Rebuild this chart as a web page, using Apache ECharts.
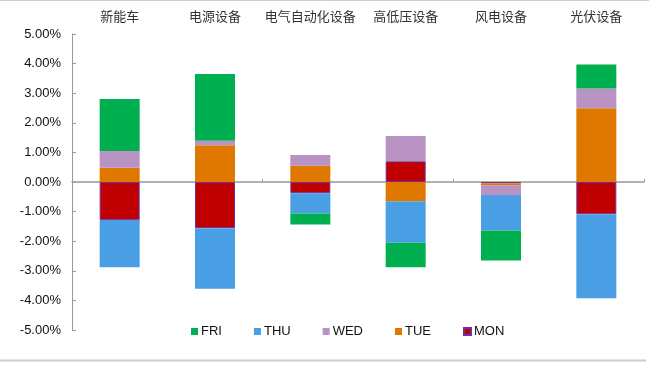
<!DOCTYPE html>
<html>
<head>
<meta charset="utf-8">
<script src="https://cdn.jsdelivr.net/npm/echarts@6/dist/echarts.min.js"></script>
<style>
html,body{margin:0;padding:0;background:#fff;}
#c{width:649px;height:368px;}
</style>
</head>
<body>
<div id="c"></div>
<script>
const categories = ['新能车','电源设备','电气自动化设备','高低压设备','风电设备','光伏设备'];
const MON = [-1.28, -1.56, -0.38, 0.70, -0.04, -1.09];
const TUE = [0.48, 1.24, 0.55, -0.65, -0.07, 2.49];
const WED = [0.57, 0.15, 0.36, 0.85, -0.33, 0.67];
const THU = [-1.60, -2.05, -0.68, -1.40, -1.20, -2.84];
const FRI = [1.75, 2.26, -0.38, -0.83, -1.01, 0.81];
const legendOrder = ['FRI','THU','WED','TUE','MON'];

const chart = echarts.init(document.getElementById('c'), null, {renderer:'canvas'});
const latin = '"Liberation Sans", Arial, sans-serif';
const cjk = '"Noto Sans CJK SC", sans-serif';

function s(name, data, color, border) {
  return {
    name: name, type: 'bar', stack: 'total', data: data,
    barWidth: 40,
    itemStyle: border ? {color: color, borderColor: border, borderWidth: 1} : {color: color},
    emphasis: {disabled: true}
  };
}

chart.setOption({
  animation: false,
  backgroundColor: '#fff',
  grid: {left: 72, right: 5, top: 34, bottom: 38},
  legend: {
    data: legendOrder,
    left: 186, top: 320,
    itemWidth: 7, itemHeight: 7, itemGap: 32,
    icon: 'rect',
    textStyle: {fontFamily: latin, fontSize: 13, color: '#111', padding: [0,0,0,-2]}
  },
  xAxis: [
    {
      type: 'category', data: categories,
      axisLine: {onZero: true, lineStyle: {color: '#999', width: 1.5}},
      axisTick: {show: true, inside: true, length: 3, lineStyle: {color: '#999'}},
      axisLabel: {show: false},
      splitLine: {show: false}
    },
    {
      type: 'category', data: categories, position: 'top',
      axisLine: {show: false, onZero: false},
      axisTick: {show: false},
      axisLabel: {show: true, interval: 0, margin: 11, fontFamily: cjk, fontSize: 13, color: '#333'},
      splitLine: {show: false}
    }
  ],
  yAxis: {
    type: 'value', min: -5, max: 5, interval: 1,
    axisLine: {show: true, lineStyle: {color: '#999', width: 1}},
    axisTick: {show: true, inside: true, length: 4, lineStyle: {color: '#999'}},
    splitLine: {show: false},
    axisLabel: {
      margin: 11, fontFamily: latin, fontSize: 13, color: '#111',
      formatter: v => v.toFixed(2) + '%'
    }
  },
  series: [
    s('MON', MON, '#C00000', '#7030A0'),
    s('TUE', TUE, '#E07800'),
    s('WED', WED, '#B893C4'),
    s('THU', THU, '#4A9FE4'),
    s('FRI', FRI, '#00B050')
  ],
  graphic: [
    {type: 'line', shape: {x1: 0, y1: 0.5, x2: 649, y2: 0.5}, style: {stroke: '#D0CCD6', lineWidth: 1}, silent: true},
    {type: 'line', shape: {x1: 0, y1: 360.5, x2: 646, y2: 360.5}, style: {stroke: '#CFCAD6', lineWidth: 2}, silent: true}
  ]
});
</script>
</body>
</html>
